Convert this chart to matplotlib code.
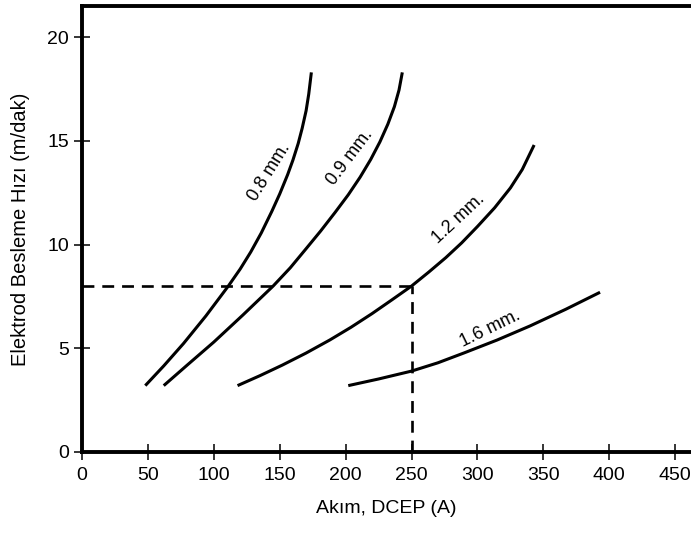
import matplotlib
matplotlib.use("Agg")
import matplotlib.pyplot as plt

plt.rcParams['font.family'] = ['Liberation Sans', 'DejaVu Sans']

# Electrode feed speed vs current
x_08 = [48, 62, 77, 94, 111, 120, 128, 136, 144, 150, 156, 160, 164, 167,
        170, 172, 174]
y_08 = [3.2, 4.15, 5.23, 6.56, 8.0, 8.82, 9.64, 10.56, 11.6, 12.44, 13.37,
        14.07, 14.87, 15.6, 16.45, 17.25, 18.3]

x_09 = [62, 80, 100, 122, 145, 158, 170, 181, 192, 202, 211, 219, 226, 232,
        237, 240.5, 243]
y_09 = [3.2, 4.2, 5.3, 6.6, 8.0, 8.88, 9.8, 10.65, 11.55, 12.4, 13.25, 14.1,
        14.95, 15.8, 16.65, 17.45, 18.3]

x_12 = [118, 135, 152, 170, 188, 204, 220, 235, 250, 263, 276, 288, 300,
        313, 325, 334, 343]
y_12 = [3.2, 3.68, 4.19, 4.77, 5.4, 6.01, 6.67, 7.33, 8.0, 8.67, 9.37,
        10.08, 10.87, 11.77, 12.73, 13.62, 14.8]

x_16 = [202, 225, 250, 270, 290, 315, 340, 367, 393]
y_16 = [3.2, 3.52, 3.9, 4.3, 4.78, 5.4, 6.08, 6.88, 7.7]

labels = ["0.8 mm.", "0.9 mm.", "1.2 mm.", "1.6 mm."]
label_pos = [(142, 13.5), (203, 14.2), (286, 11.25), (310, 5.95)]
label_rot = [58, 53, 43, 26]

# reference point marked with dashed lines
ref_x = 250
ref_y = 8

fig = plt.figure(figsize=(6.91, 5.37), dpi=100)
ax = fig.add_axes([82 / 691, 85 / 537, 609 / 691, 446 / 537])

for xs, ys in [(x_08, y_08), (x_09, y_09), (x_12, y_12), (x_16, y_16)]:
    ax.plot(xs, ys, color='black', linewidth=2.2, solid_capstyle='butt',
            solid_joinstyle='round')

ax.plot([0, ref_x], [ref_y, ref_y], color='black', linewidth=1.9,
        dashes=(4.5, 3))
ax.plot([ref_x, ref_x], [0, ref_y], color='black', linewidth=1.9,
        dashes=(4.5, 3))

for txt, (tx, ty), rot in zip(labels, label_pos, label_rot):
    ax.text(tx, ty, txt, rotation=rot, ha='center', va='center',
            rotation_mode='anchor', fontsize=13)

ax.set_xlim(0, 462)
ax.set_ylim(0, 21.5)
ax.set_xticks(range(0, 451, 50))
ax.set_yticks([0, 5, 10, 15, 20])

ax.spines['right'].set_visible(False)
for s in ['left', 'top', 'bottom']:
    ax.spines[s].set_linewidth(2.8)

ax.tick_params(direction='inout', length=11, width=1.1, labelsize=14)
ax.tick_params(axis='x', pad=5)
ax.tick_params(axis='y', pad=4)
ax.set_xlabel("Akım, DCEP (A)", fontsize=14, labelpad=12)
ax.set_ylabel("Elektrod Besleme Hızı (m/dak)", fontsize=14.5, labelpad=12)

fig.savefig("out.png", dpi=100)
